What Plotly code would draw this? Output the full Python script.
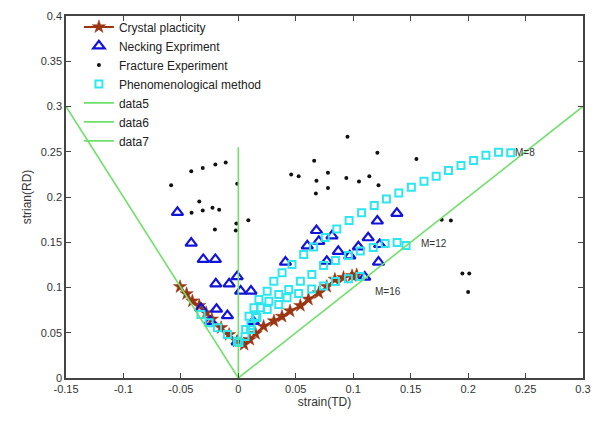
import plotly.graph_objects as go

# ---------------- data ----------------
crystal_x = [-0.0507, -0.045, -0.040, -0.034, -0.028, -0.023, -0.015, -0.008, -0.001, 0.005,
             0.010, 0.015, 0.022, 0.031, 0.038, 0.045, 0.054, 0.061, 0.070, 0.077,
             0.084, 0.0915, 0.099, 0.103]
crystal_y = [0.1008, 0.093, 0.085, 0.080, 0.072, 0.065, 0.0555, 0.048, 0.0407, 0.037,
             0.0425, 0.049, 0.057, 0.063, 0.068, 0.074, 0.080, 0.087, 0.094, 0.101,
             0.109, 0.111, 0.113, 0.114]

necking_x = [-0.053, -0.041, -0.0305, -0.020, -0.0196, -0.008, -0.001, 0.002, 0.011,
             -0.0325, -0.019, -0.0095, -0.0245, 0.013, -0.001,
             0.041, 0.060, 0.068, 0.070, 0.0815, 0.077, 0.087, 0.097, 0.1045, 0.113,
             0.121, 0.138, 0.122, 0.110, 0.123]
necking_y = [0.183, 0.149, 0.131, 0.131, 0.104, 0.104, 0.112, 0.096, 0.096,
             0.077, 0.076, 0.069, 0.0625, 0.0625, 0.040,
             0.128, 0.146, 0.163, 0.151, 0.157, 0.129, 0.140, 0.135, 0.145, 0.155,
             0.1735, 0.182, 0.128, 0.1115, 0.1475]

fracture_x = [-0.0585, -0.041, -0.031, -0.020, -0.011, -0.001, -0.034, -0.0407, -0.031,
              -0.0225, -0.0167, 0.0087, -0.0017, -0.0204, -0.0022, 0.046, 0.0525, 0.066,
              0.068, 0.0675, 0.078, 0.078, 0.095, 0.094, 0.105, 0.114, 0.121, 0.122,
              0.155, 0.177, 0.185, 0.195, 0.201, 0.200]
fracture_y = [0.213, 0.2285, 0.232, 0.236, 0.238, 0.2146, 0.195, 0.1825, 0.185,
              0.188, 0.186, 0.1744, 0.1707, 0.164, 0.163, 0.225, 0.223, 0.240,
              0.218, 0.204, 0.2267, 0.210, 0.2665, 0.221, 0.217, 0.223, 0.249, 0.213,
              0.242, 0.175, 0.174, 0.1155, 0.1155, 0.095]

pheno_m8_x = [0.0006, 0.0064, 0.0093, 0.0136, 0.0179, 0.0251, 0.0309, 0.0381, 0.0467,
              0.0569, 0.0655, 0.0756, 0.0857, 0.0964, 0.1073, 0.1183, 0.1289, 0.1397,
              0.1506, 0.1616, 0.1722, 0.1829, 0.1938, 0.2048, 0.2155, 0.2265, 0.2371]
pheno_m8_y = [0.0392, 0.0536, 0.0683, 0.0776, 0.0867, 0.0959, 0.107, 0.1162, 0.1254,
              0.1365, 0.1448, 0.1552, 0.1646, 0.174, 0.1825, 0.1906, 0.1978, 0.2044,
              0.2108, 0.2175, 0.223, 0.2293, 0.2348, 0.2403, 0.2462, 0.2495, 0.2488]

pheno_m12_x = [0.0107, 0.0151, 0.0194, 0.0266, 0.0352, 0.0439, 0.054, 0.064, 0.0742,
               0.0845, 0.0958, 0.1062, 0.1174, 0.1278, 0.1382, 0.146]
pheno_m12_y = [0.0536, 0.0683, 0.0776, 0.0849, 0.0923, 0.0978, 0.107, 0.1144, 0.1243,
               0.1298, 0.1354, 0.1403, 0.1442, 0.1486, 0.1497, 0.1464]

pheno_m16_x = [-0.0325, -0.0254, -0.0182, -0.0095, -0.0009, 0.0058, 0.011, 0.0162, 0.0251,
               0.0352, 0.0424, 0.0525, 0.0638, 0.0742, 0.0845, 0.0958, 0.1059]
pheno_m16_y = [0.0702, 0.061, 0.0555, 0.048, 0.0407, 0.0459, 0.058, 0.0669, 0.0757,
               0.0812, 0.0886, 0.0934, 0.0983, 0.1017, 0.1066, 0.1096, 0.1122]

data5_x = [-0.15, 0.0]
data5_y = [0.3, 0.0]
data6_x = [0.0, 0.0]
data6_y = [0.0, 0.255]
data7_x = [0.0, 0.3]
data7_y = [0.0, 0.3]

label_text = ["M=8", "M=12", "M=16"]
label_x = [0.239, 0.157, 0.117]
label_y = [0.249, 0.1486, 0.0956]

x_ticks = [-0.15, -0.1, -0.05, 0, 0.05, 0.1, 0.15, 0.2, 0.25, 0.3]
x_ticktext = ["-0.15", "-0.1", "-0.05", "0", "0.05", "0.1", "0.15", "0.2", "0.25", "0.3"]
y_ticks = [0, 0.05, 0.1, 0.15, 0.2, 0.25, 0.3, 0.35, 0.4]
y_ticktext = ["0", "0.05", "0.1", "0.15", "0.2", "0.25", "0.3", "0.35", "0.4"]

# ---------------- figure ----------------
BROWN = "#9a3512"
BLUE = "#1414d8"
CYAN = "#2ee6ee"
GREEN = "#6fe06a"
FONT = "Liberation Sans, Arial"

fig = go.Figure()
fig.add_trace(go.Scatter(x=crystal_x, y=crystal_y, mode="lines+markers", name="Crystal placticity",
                         line=dict(color=BROWN, width=2),
                         marker=dict(symbol="star", size=10, color=BROWN, line=dict(color=BROWN, width=0.5))))
fig.add_trace(go.Scatter(x=necking_x, y=necking_y, mode="markers", name="Necking Expriment",
                         marker=dict(symbol="triangle-up-open", size=10, color=BLUE, line=dict(color=BLUE, width=2.2))))
fig.add_trace(go.Scatter(x=fracture_x, y=fracture_y, mode="markers", name="Fracture Experiment",
                         marker=dict(symbol="circle", size=4, color="#111111")))
for i, (px, py) in enumerate([(pheno_m8_x, pheno_m8_y), (pheno_m12_x, pheno_m12_y), (pheno_m16_x, pheno_m16_y)]):
    fig.add_trace(go.Scatter(x=px, y=py, mode="markers", name="Phenomenological method",
                             legendgroup="pheno", showlegend=(i == 0),
                             marker=dict(symbol="square-open", size=7, color=CYAN, line=dict(color=CYAN, width=2))))
for nm, lx, ly in [("data5", data5_x, data5_y), ("data6", data6_x, data6_y), ("data7", data7_x, data7_y)]:
    fig.add_trace(go.Scatter(x=lx, y=ly, mode="lines", name=nm, line=dict(color=GREEN, width=1.6)))

for t, ax_, ay_ in zip(label_text, label_x, label_y):
    fig.add_annotation(x=ax_, y=ay_, text=t, showarrow=False, xanchor="left", yanchor="middle",
                       font=dict(family=FONT, size=10, color="#333333"))

axis_common = dict(showgrid=False, zeroline=False, showline=True, linecolor="#444444", linewidth=1.5,
                   mirror="ticks", ticks="inside", ticklen=5, tickcolor="#444444",
                   tickfont=dict(family=FONT, size=11, color="#333333"))

fig.update_xaxes(range=[-0.15, 0.3], tickvals=x_ticks, ticktext=x_ticktext,
                 title=dict(text="strain(TD)", standoff=4,
                            font=dict(family=FONT, size=12, color="#333333")),
                 **axis_common)
fig.update_yaxes(range=[0, 0.4], tickvals=y_ticks, ticktext=y_ticktext,
                 title=dict(text="strian(RD)", standoff=6,
                            font=dict(family=FONT, size=12, color="#333333")),
                 **axis_common)

fig.update_layout(
    width=601, height=422,
    margin=dict(l=66, r=10, t=16, b=44),
    plot_bgcolor="white", paper_bgcolor="white",
    showlegend=True,
    legend=dict(x=0.025, y=1.01, xanchor="left", yanchor="top", bgcolor="rgba(0,0,0,0)",
                font=dict(family=FONT, size=12, color="#222222"),
                tracegroupgap=0, itemwidth=30),
)

fig.write_html("out.html")
